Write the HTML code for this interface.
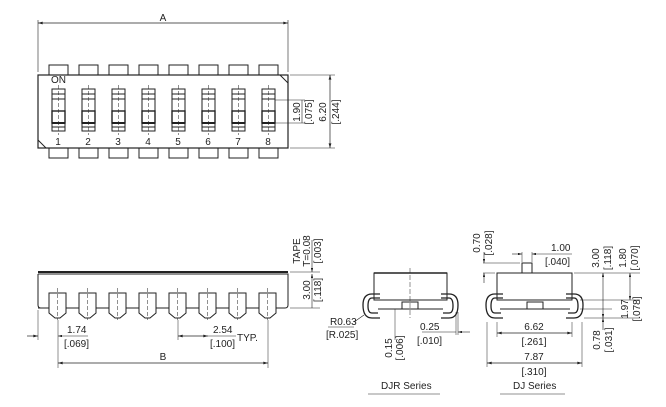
<!DOCTYPE html>
<html><head><style>
html,body{margin:0;padding:0;background:#fff;}
svg{display:block;}
text{font-family:"Liberation Sans",sans-serif;fill:#222;font-size:10px;}
</style></head><body>
<svg width="666" height="407" viewBox="0 0 666 407" xmlns="http://www.w3.org/2000/svg">
<defs>
<marker id="a" viewBox="0 0 10 6" refX="10" refY="3" markerWidth="8" markerHeight="4" orient="auto-start-reverse"><path d="M0,0 L10,3 L0,6 z" fill="#222"/></marker>
</defs>
<g stroke="#222" fill="none" stroke-width="1">
<!-- TOP VIEW -->
<line x1="38" y1="20" x2="38" y2="72" stroke-width="0.6"/>
<line x1="288" y1="20" x2="288" y2="72" stroke-width="0.6"/>
<line x1="38" y1="23" x2="288" y2="23" stroke-width="0.7" marker-start="url(#a)" marker-end="url(#a)"/>
<rect x="38" y="75" width="250" height="73" stroke-width="1.2"/>
<line x1="280" y1="75" x2="288" y2="83"/>
<line x1="38" y1="140" x2="46" y2="148"/>
<g id="tabs">
<rect x="49" y="65" width="19" height="10"/><rect x="79" y="65" width="19" height="10"/><rect x="109" y="65" width="19" height="10"/><rect x="139" y="65" width="19" height="10"/><rect x="169" y="65" width="19" height="10"/><rect x="199" y="65" width="19" height="10"/><rect x="229" y="65" width="19" height="10"/><rect x="259" y="65" width="19" height="10"/>
</g>
<use href="#tabs" y="83"/>
<g id="sw">
<rect x="52" y="89" width="13" height="42"/>
<line x1="52" y1="94" x2="65" y2="94"/><line x1="52" y1="99" x2="65" y2="99"/>
<rect x="52" y="111" width="13" height="12" stroke-width="1.4"/>
<line x1="52" y1="123" x2="65" y2="123" stroke-width="2"/>
<line x1="52" y1="127" x2="65" y2="127"/>
<line x1="58.5" y1="85" x2="58.5" y2="135" stroke-width="0.5" stroke-dasharray="4,2"/>
</g>
<use href="#sw" x="30"/><use href="#sw" x="60"/><use href="#sw" x="90"/><use href="#sw" x="120"/><use href="#sw" x="150"/><use href="#sw" x="180"/><use href="#sw" x="210"/>
<line x1="275" y1="100" x2="305" y2="100" stroke-width="0.6"/>
<line x1="275" y1="123" x2="305" y2="123" stroke-width="0.6"/>
<line x1="290" y1="75" x2="335" y2="75" stroke-width="0.6"/>
<line x1="290" y1="148" x2="335" y2="148" stroke-width="0.6"/>
<line x1="330" y1="75" x2="330" y2="148" stroke-width="0.7" marker-start="url(#a)" marker-end="url(#a)"/>
<line x1="302" y1="100" x2="302" y2="123" stroke-width="0.6"/>

<!-- SIDE VIEW -->
<line x1="38" y1="272" x2="288" y2="272" stroke-width="2"/>
<path d="M38,274 L288,274 L288,305 Q288,308 285,308 L38,308 M38,274 L38,305 Q38,308 41,308" stroke-width="1"/>
<g id="pin"><path d="M49,293 L66,293 L66,313 L60,318 L55,318 L49,313 Z" fill="#fff"/><line x1="57.5" y1="288" x2="57.5" y2="320" stroke-width="0.5" stroke-dasharray="4,2"/></g>
<use href="#pin" x="30"/><use href="#pin" x="60"/><use href="#pin" x="90"/><use href="#pin" x="120"/><use href="#pin" x="150"/><use href="#pin" x="180"/><use href="#pin" x="210"/>
<line x1="58" y1="320" x2="58" y2="368" stroke-width="0.5"/>
<line x1="178" y1="320" x2="178" y2="340" stroke-width="0.5"/>
<line x1="268" y1="320" x2="268" y2="368" stroke-width="0.5"/>
<line x1="38" y1="310" x2="38" y2="340" stroke-width="0.5"/>
<line x1="27" y1="336" x2="38" y2="336" stroke-width="0.7" marker-end="url(#a)"/>
<line x1="58" y1="336" x2="88" y2="336" stroke-width="0.6" marker-start="url(#a)"/>
<line x1="178" y1="336" x2="208" y2="336" stroke-width="0.7" marker-start="url(#a)" marker-end="url(#a)"/>
<line x1="208" y1="336" x2="236" y2="336" stroke-width="0.6"/>
<line x1="58" y1="363" x2="268" y2="363" stroke-width="0.7" marker-start="url(#a)" marker-end="url(#a)"/>
<line x1="290" y1="272" x2="320" y2="272" stroke-width="0.6"/>
<line x1="290" y1="308" x2="320" y2="308" stroke-width="0.6"/>
<line x1="312" y1="240" x2="312" y2="272" stroke-width="0.6" marker-end="url(#a)"/>
<line x1="312" y1="274" x2="312" y2="308" stroke-width="0.6" marker-start="url(#a)"/>

<!-- DJR -->
<rect x="374" y="273" width="73" height="27"/>
<line x1="374" y1="273" x2="447" y2="273" stroke-width="1.6"/>
<line x1="378" y1="309" x2="443" y2="309"/>
<rect x="402" y="302" width="16" height="7"/>
<line x1="410" y1="268" x2="410" y2="318" stroke-width="0.5" stroke-dasharray="5,2"/>
<path d="M380,294 L372,294 Q363,294 363,305 Q363,318 372,318 L380,318 M380,298 L372,298 Q368,298 368,306 Q368,313 372,313 L378,313" stroke-width="1.3"/>
<path d="M441,294 L449,294 Q458,294 458,305 Q458,318 449,318 L441,318 M441,298 L449,298 Q453,298 453,306 Q453,313 449,313 L443,313" stroke-width="1.3"/>
<line x1="354" y1="322" x2="364" y2="315" stroke-width="0.6"/>
<line x1="328" y1="327" x2="354" y2="327" stroke-width="0.6"/>
<line x1="395" y1="309" x2="395" y2="340" stroke-width="0.5"/>
<line x1="456" y1="312" x2="456" y2="335" stroke-width="0.5"/>
<line x1="458" y1="312" x2="458" y2="335" stroke-width="0.5"/>
<line x1="422" y1="332" x2="456" y2="332" stroke-width="0.6"/>
<line x1="470" y1="332" x2="458" y2="332" stroke-width="0.6" marker-end="url(#a)"/>
<line x1="368" y1="394" x2="440" y2="394" stroke-width="0.6"/>

<!-- DJ -->
<rect x="497" y="273" width="75" height="27"/>
<rect x="522" y="263" width="10" height="10"/>
<line x1="500" y1="300" x2="570" y2="300"/>
<line x1="500" y1="309" x2="570" y2="309"/>
<rect x="527" y="302" width="16" height="7"/>
<path d="M503,294 L495,294 Q486,294 486,305 Q486,318 495,318 L503,318 M503,298 L495,298 Q491,298 491,306 Q491,313 495,313 L501,313" stroke-width="1.3"/>
<path d="M566,294 L574,294 Q583,294 583,305 Q583,318 574,318 L566,318 M566,298 L574,298 Q578,298 578,306 Q578,313 574,313 L568,313" stroke-width="1.3"/>
<line x1="483" y1="263" x2="520" y2="263" stroke-width="0.5"/>
<line x1="483" y1="273" x2="495" y2="273" stroke-width="0.5"/>
<line x1="484" y1="252" x2="484" y2="263" stroke-width="0.6" marker-end="url(#a)"/>
<line x1="484" y1="283" x2="484" y2="273" stroke-width="0.6" marker-end="url(#a)"/>
<line x1="522" y1="252" x2="522" y2="262" stroke-width="0.5"/>
<line x1="532" y1="252" x2="532" y2="262" stroke-width="0.5"/>
<line x1="512" y1="254" x2="522" y2="254" stroke-width="0.6" marker-end="url(#a)"/>
<line x1="572" y1="254" x2="532" y2="254" stroke-width="0.6" marker-end="url(#a)"/>
<line x1="574" y1="273" x2="640" y2="273" stroke-width="0.5"/>
<line x1="580" y1="300" x2="640" y2="300" stroke-width="0.5"/>
<line x1="580" y1="309" x2="612" y2="309" stroke-width="0.5"/>
<line x1="584" y1="318" x2="640" y2="318" stroke-width="0.5"/>
<line x1="603" y1="273" x2="603" y2="318" stroke-width="0.6" marker-start="url(#a)" marker-end="url(#a)"/>
<line x1="630" y1="273" x2="630" y2="300" stroke-width="0.6" marker-start="url(#a)" marker-end="url(#a)"/>
<line x1="603" y1="330" x2="603" y2="318" stroke-width="0.6" marker-end="url(#a)"/>
<line x1="497" y1="322" x2="497" y2="337" stroke-width="0.5"/>
<line x1="572" y1="322" x2="572" y2="337" stroke-width="0.5"/>
<line x1="487" y1="322" x2="487" y2="367" stroke-width="0.5"/>
<line x1="582" y1="322" x2="582" y2="367" stroke-width="0.5"/>
<line x1="497" y1="333" x2="572" y2="333" stroke-width="0.7" marker-start="url(#a)" marker-end="url(#a)"/>
<line x1="487" y1="363" x2="582" y2="363" stroke-width="0.7" marker-start="url(#a)" marker-end="url(#a)"/>
<line x1="500" y1="394" x2="565" y2="394" stroke-width="0.6"/>
</g>

<!-- TEXT -->
<text x="163" y="21" text-anchor="middle" font-size="11">A</text>
<text x="51" y="83" font-size="8">ON</text>
<g font-size="8" text-anchor="middle">
<text x="58" y="145">1</text><text x="88" y="145">2</text><text x="118" y="145">3</text><text x="148" y="145">4</text><text x="178" y="145">5</text><text x="208" y="145">6</text><text x="238" y="145">7</text><text x="268" y="145">8</text>
</g>
<text transform="translate(300,112) rotate(-90)" text-anchor="middle">1.90</text>
<text transform="translate(312,112) rotate(-90)" text-anchor="middle">[.075]</text>
<text transform="translate(326,112) rotate(-90)" text-anchor="middle">6.20</text>
<text transform="translate(339,112) rotate(-90)" text-anchor="middle">[.244]</text>

<text transform="translate(300,251) rotate(-90)" text-anchor="middle">TAPE</text>
<text transform="translate(310,251) rotate(-90)" text-anchor="middle">T=0.08</text>
<text transform="translate(321,251) rotate(-90)" text-anchor="middle">[.003]</text>
<text transform="translate(310,290) rotate(-90)" text-anchor="middle">3.00</text>
<text transform="translate(321,290) rotate(-90)" text-anchor="middle">[.118]</text>
<text x="67" y="333">1.74</text>
<text x="64" y="347">[.069]</text>
<text x="213" y="333">2.54</text>
<text x="210" y="347">[.100]</text>
<text x="237" y="341">TYP.</text>
<text x="163" y="360" text-anchor="middle">B</text>

<text x="330" y="325">R0.63</text>
<text x="326" y="338">[R.025]</text>
<text transform="translate(392,348) rotate(-90)" text-anchor="middle">0.15</text>
<text transform="translate(403,348) rotate(-90)" text-anchor="middle">[.006]</text>
<text x="420" y="330">0.25</text>
<text x="417" y="344">[.010]</text>
<text x="381" y="389">DJR Series</text>

<text transform="translate(480,243) rotate(-90)" text-anchor="middle">0.70</text>
<text transform="translate(492,243) rotate(-90)" text-anchor="middle">[.028]</text>
<text x="551" y="251">1.00</text>
<text x="545" y="265">[.040]</text>
<text transform="translate(599,258) rotate(-90)" text-anchor="middle">3.00</text>
<text transform="translate(611,258) rotate(-90)" text-anchor="middle">[.118]</text>
<text transform="translate(626,258) rotate(-90)" text-anchor="middle">1.80</text>
<text transform="translate(638,258) rotate(-90)" text-anchor="middle">[.070]</text>
<text transform="translate(628,309) rotate(-90)" text-anchor="middle">1.97</text>
<text transform="translate(640,309) rotate(-90)" text-anchor="middle">[.078]</text>
<text transform="translate(600,340) rotate(-90)" text-anchor="middle">0.78</text>
<text transform="translate(612,340) rotate(-90)" text-anchor="middle">[.031]</text>
<text x="534" y="330" text-anchor="middle">6.62</text>
<text x="534" y="345" text-anchor="middle">[.261]</text>
<text x="534" y="360" text-anchor="middle">7.87</text>
<text x="534" y="375" text-anchor="middle">[.310]</text>
<text x="513" y="389">DJ Series</text>
</svg>
</body></html>
